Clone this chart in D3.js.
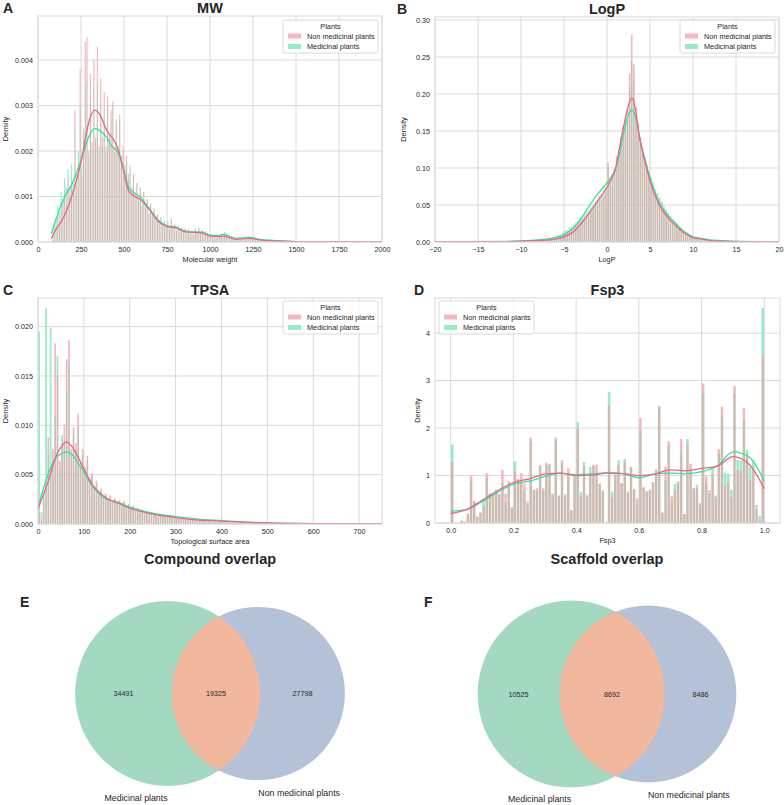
<!DOCTYPE html>
<html>
<head>
<meta charset="utf-8">
<script src="https://cdn.jsdelivr.net/npm/d3@7"></script>
<style>
  body { margin: 0; background: #fff; }
  text { font-family: "Liberation Sans", Arial, "DejaVu Sans", sans-serif; fill: #262626; }
</style>
</head>
<body>
<svg id="fig" width="784" height="805"></svg>
<script>
// ---- data ----
var seriesNames = ['Non medicinal plants', 'Medicinal plants'];

// MW histogram, bins of 10 starting at 80, density in units of 1e-5
var mwBinStart = 80, mwBinStep = 10, mwUnit = 1e-5;
var mwNon = [5, 15, 30, 55, 40, 70, 90, 110, 85, 140,
  100, 130, 110, 290, 120, 170, 380, 150, 240, 440,
  450, 200, 370, 220, 400, 230, 430, 210, 360, 230,
  330, 200, 320, 240, 290, 310, 210, 270, 200, 280,
  180, 210, 160, 190, 140, 170, 110, 150, 100, 130,
  90, 120, 80, 110, 75, 95, 60, 80, 55, 70,
  45, 60, 40, 50, 35, 45, 30, 42, 28, 50,
  30, 38, 25, 35, 22, 30, 20, 28, 18, 26,
  17, 25, 15, 28, 18, 30, 20, 25, 15, 22,
  18, 12, 15, 10, 14, 9, 12, 10, 15, 12,
  18, 13, 9, 11, 6, 9, 5, 8, 7, 5,
  6, 5, 9, 6, 10, 8, 11, 5, 7, 4,
  5, 3, 4, 2, 3, 2, 4, 2, 3, 1,
  2, 1, 2, 1, 1, 1, 1, 0, 1, 0,
  1, 0];
var mwMed = [15, 35, 50, 80, 65, 110, 95, 140, 120, 160,
  120, 170, 130, 250, 150, 200, 300, 170, 250, 350,
  360, 190, 310, 200, 340, 220, 350, 200, 310, 210,
  290, 210, 300, 230, 270, 300, 200, 260, 210, 270,
  190, 200, 170, 180, 150, 160, 120, 145, 110, 130,
  95, 120, 85, 110, 80, 95, 65, 85, 60, 75,
  50, 62, 45, 55, 40, 48, 35, 45, 30, 52,
  32, 40, 27, 36, 24, 32, 22, 30, 20, 28,
  19, 27, 17, 30, 20, 32, 22, 27, 16, 24,
  20, 14, 17, 12, 15, 10, 13, 12, 18, 14,
  22, 15, 11, 12, 7, 10, 6, 9, 8, 6,
  7, 6, 10, 7, 13, 9, 12, 6, 8, 5,
  6, 4, 5, 3, 4, 3, 5, 2, 3, 2,
  2, 2, 2, 1, 1, 1, 1, 1, 1, 0,
  1, 0];
var mwKdeX = [78, 100, 150, 200, 250, 300, 330, 360, 400, 430, 460, 490, 530, 600, 650, 700, 750, 800, 850, 900, 950, 1000, 1050, 1080, 1150, 1230, 1300, 1400, 1500, 1700, 2000];
var mwKdeNon = [0.00008, 0.00025, 0.00055, 0.00105, 0.00175, 0.0027, 0.0029, 0.0028, 0.00245, 0.0023, 0.0021, 0.0017, 0.0011, 0.00092, 0.0007, 0.00045, 0.00034, 0.00031, 0.00023, 0.00021, 0.0002, 0.00013, 0.00012, 0.00013, 0.00006, 0.00008, 0.00004, 0.00002, 0.00001, 0.000005, 0.000003];
var mwKdeMed = [0.00018, 0.00045, 0.00095, 0.0013, 0.0018, 0.00235, 0.0025, 0.00245, 0.0023, 0.0021, 0.002, 0.0017, 0.00118, 0.00097, 0.00072, 0.00048, 0.00036, 0.00033, 0.00025, 0.00022, 0.00022, 0.00015, 0.00014, 0.00017, 0.00008, 0.0001, 0.00005, 0.00003, 0.00001, 0.000005, 0.000002];

// LogP histogram, bins of 0.25 starting at -8, density in units of 1e-3
var logpBinStart = -8, logpBinStep = 0.25, logpUnit = 1e-3;
var logpNon = [2, 1, 3, 2, 4, 3, 5, 4,
  6, 8, 7, 10, 12, 13, 16, 17,
  19, 21, 23, 27, 28, 31, 34, 36,
  41, 43, 48, 51, 56, 59, 63, 68,
  108, 78, 90, 97, 116, 124, 142, 156,
  165, 180, 228, 280, 240, 182, 160, 142,
  128, 113, 101, 90, 83, 76, 68, 61,
  55, 50, 45, 41, 36, 32, 28, 25,
  22, 19, 16, 13, 10, 8, 7, 6,
  5, 5, 4, 4, 3, 3, 2, 2,
  2, 2, 1, 1, 1, 1, 1, 1, 0, 1, 0, 1];
var logpMed = [3, 2, 4, 3, 5, 4, 6, 6,
  8, 10, 9, 13, 15, 16, 19, 21,
  23, 26, 28, 32, 34, 37, 40, 43,
  47, 50, 54, 57, 62, 65, 70, 74,
  102, 84, 92, 99, 110, 118, 130, 142,
  152, 166, 212, 245, 220, 172, 158, 142,
  124, 116, 104, 94, 87, 80, 72, 66,
  60, 54, 48, 44, 39, 35, 31, 28,
  25, 21, 18, 15, 12, 10, 8, 7,
  6, 6, 5, 4, 4, 3, 3, 2,
  2, 2, 2, 1, 1, 1, 1, 1, 1, 1, 1, 1];
var logpKdeX = [-20, -12, -10, -8, -6, -5, -4, -3, -2, -1, 0, 0.5, 1, 1.5, 2, 2.5, 2.9, 3.3, 3.8, 4.5, 5, 6, 7, 8, 9, 10, 11, 12, 13, 15, 20];
var logpKdeNon = [0, 0.0005, 0.001, 0.002, 0.004, 0.007, 0.013, 0.025, 0.040, 0.057, 0.074, 0.085, 0.10, 0.13, 0.16, 0.185, 0.195, 0.18, 0.14, 0.105, 0.083, 0.052, 0.034, 0.022, 0.012, 0.006, 0.004, 0.002, 0.001, 0.0005, 0];
var logpKdeMed = [0, 0.0008, 0.0015, 0.003, 0.006, 0.01, 0.018, 0.032, 0.050, 0.066, 0.080, 0.088, 0.098, 0.122, 0.15, 0.172, 0.178, 0.17, 0.14, 0.108, 0.087, 0.055, 0.037, 0.025, 0.014, 0.007, 0.005, 0.003, 0.002, 0.001, 0];

// TPSA histogram, bins of 5 starting at 0, density in units of 1e-5
var tpsaBinStart = 0, tpsaBinStep = 5, tpsaUnit = 1e-5;
var tpsaNon = [130, 60, 250, 420, 880, 560, 760, 1830, 1500, 640,
  820, 1010, 1670, 1860, 760, 980, 820, 1120, 640, 760,
  580, 690, 470, 520, 380, 440, 330, 360, 270, 310,
  240, 290, 220, 260, 210, 240, 190, 230, 170, 200,
  150, 180, 130, 160, 120, 140, 110, 125, 95, 115,
  90, 105, 80, 95, 75, 85, 70, 80, 60, 70,
  55, 65, 50, 58, 45, 52, 42, 48, 38, 44,
  34, 40, 30, 36, 28, 32, 25, 30, 22, 26,
  20, 23, 17, 20, 15, 18, 13, 15, 11, 13,
  10, 11, 8, 9, 7, 8, 6, 7, 5, 6,
  5, 4, 4, 3, 3, 3, 2, 2, 2, 2,
  2, 1, 1, 1, 1, 1, 1, 1, 1, 1];
var tpsaMed = [1950, 120, 320, 2190, 700, 1990, 620, 1100, 1700, 560,
  900, 850, 1350, 1650, 700, 900, 760, 1000, 600, 700,
  560, 650, 460, 500, 370, 420, 320, 350, 270, 300,
  240, 280, 225, 255, 215, 245, 200, 230, 175, 205,
  160, 185, 140, 165, 125, 145, 115, 130, 100, 120,
  95, 110, 85, 100, 80, 92, 74, 84, 66, 76,
  60, 70, 55, 62, 50, 57, 46, 53, 42, 48,
  38, 44, 34, 40, 31, 36, 28, 33, 25, 29,
  22, 26, 20, 23, 17, 20, 15, 17, 13, 15,
  11, 12, 9, 10, 8, 9, 7, 8, 6, 6,
  5, 5, 4, 4, 3, 3, 3, 2, 2, 2,
  2, 2, 1, 1, 1, 1, 1, 1, 1, 1];
var tpsaKdeX = [0, 12, 25, 37, 50, 62, 75, 87, 100, 112, 125, 150, 175, 200, 250, 300, 350, 400, 450, 500, 600, 750];
var tpsaKdeNon = [0.0015, 0.0030, 0.0047, 0.0066, 0.0078, 0.0083, 0.0078, 0.0068, 0.0056, 0.0045, 0.0036, 0.0026, 0.0021, 0.0016, 0.0010, 0.00064, 0.0004, 0.0003, 0.00018, 0.0001, 0.00003, 0];
var tpsaKdeMed = [0.0017, 0.0036, 0.0054, 0.0066, 0.0071, 0.0073, 0.0070, 0.0062, 0.0053, 0.0043, 0.0035, 0.0025, 0.0022, 0.0017, 0.0011, 0.00075, 0.0005, 0.00035, 0.0002, 0.0001, 0.00003, 0];

// Fsp3 histogram, bins of 0.01 starting at 0, density
var fspBinStart = 0, fspBinStep = 0.01, fspUnit = 1;
var fspNon = [1.30, 0, 0, 0.05, 0.03, 0.20, 1.00, 0.47, 0.13, 0.22,
  0.36, 1.05, 0.62, 0.63, 0.70, 0.62, 1.12, 0.62, 0.88, 0.33,
  1.10, 0.93, 1.05, 0.83, 0.45, 1.80, 0.70, 0.73, 1.22, 0.73,
  1.27, 1.25, 0.62, 1.76, 0.58, 1.32, 0.60, 1.15, 0.27, 1.02,
  2.00, 0.58, 1.21, 0.60, 1.07, 1.23, 1.23, 0.84, 0.69, 0.02,
  2.47, 0.56, 1.05, 1.23, 0.84, 1.30, 0.66, 1.18, 0.72, 0.52,
  2.21, 0.76, 0.67, 0.70, 0.86, 1.10, 2.47, 0.22, 1.19, 1.72,
  0.57, 0.70, 0.86, 1.77, 0.19, 1.68, 1.25, 0.74, 0.74, 0.42,
  2.94, 0.98, 0.69, 1.04, 0.53, 1.56, 2.45, 0.79, 0.86, 0.56,
  2.88, 1.12, 1.10, 2.43, 1.39, 0.91, 1.14, 0.31, 0.06, 3.51];
var fspMed = [1.65, 0, 0, 0.05, 0.03, 0.20, 0.90, 0.45, 0.13, 0.22,
  0.46, 0.95, 0.62, 0.63, 0.70, 0.60, 0.85, 0.45, 0.78, 0.33,
  1.30, 0.88, 0.92, 0.68, 0.38, 1.74, 0.70, 0.68, 1.18, 0.68,
  1.22, 1.23, 0.60, 1.80, 0.57, 1.27, 0.58, 1.05, 0.27, 0.98,
  2.13, 0.65, 1.28, 0.58, 1.18, 1.20, 1.04, 0.80, 0.66, 0.01,
  2.76, 0.66, 1.02, 1.32, 0.84, 1.35, 0.64, 1.18, 0.70, 0.41,
  1.96, 0.74, 0.66, 0.70, 0.86, 1.13, 2.45, 0.22, 0.91, 1.64,
  0.47, 0.82, 0.88, 1.51, 0.19, 1.77, 1.12, 0.72, 0.81, 0.34,
  2.75, 0.84, 0.62, 1.16, 0.58, 1.49, 2.29, 1.05, 1.04, 0.70,
  2.75, 1.33, 1.32, 2.17, 1.54, 1.18, 1.33, 0.38, 0.15, 4.53];
var fspKdeX = [0, 0.05, 0.1, 0.15, 0.2, 0.25, 0.3, 0.35, 0.4, 0.45, 0.5, 0.55, 0.6, 0.65, 0.7, 0.75, 0.8, 0.85, 0.9, 0.95, 1.0];
var fspKdeNon = [0.20, 0.28, 0.48, 0.68, 0.85, 0.93, 1.03, 1.05, 1.00, 1.01, 1.05, 1.04, 1.00, 1.03, 1.12, 1.10, 1.15, 1.20, 1.40, 1.25, 0.72];
var fspKdeMed = [0.25, 0.28, 0.45, 0.65, 0.82, 0.88, 0.98, 1.05, 1.02, 1.03, 1.06, 1.04, 0.95, 1.03, 1.05, 1.04, 1.08, 1.20, 1.50, 1.40, 0.88];

// tick values
var mwTicks = [0, 250, 500, 750, 1000, 1250, 1500, 1750, 2000];
var mwYTicks = [0, 0.001, 0.002, 0.003, 0.004];
var logpTicks = [-20, -15, -10, -5, 0, 5, 10, 15, 20];
var logpYTicks = [0, 0.05, 0.10, 0.15, 0.20, 0.25, 0.30];
var tpsaTicks = [0, 100, 200, 300, 400, 500, 600, 700];
var tpsaYTicks = [0, 0.005, 0.010, 0.015, 0.020];
var fspTicks = [0, 0.2, 0.4, 0.6, 0.8, 1.0];
var fspYTicks = [0, 1, 2, 3, 4];

// Venn counts: [only medicinal, both, only non medicinal]
var compoundCounts = [34491, 19325, 27798];
var scaffoldCounts = [10525, 8692, 8486];
var vennSetNames = ['Medicinal plants', 'Non medicinal plants'];

// ---- style ----
var col = {
  non: '#f6b7c3', med: '#95ecc8', both: '#cbbcb2',
  nonLine: '#f0647f', medLine: '#2fe49c',
  grid: '#dadada',
  vMed: '#a3d9c1', vNon: '#b5c1d7', vBoth: '#f1b89e'
};
var svg = d3.select('#fig');

function histPanel(p) {
  var g = svg.append('g'),
      x = d3.scaleLinear().domain(p.xDomain).range([p.left, p.right]),
      y = d3.scaleLinear().domain(p.yDomain).range([p.bottom, p.top]);

  // grid
  g.selectAll('line.vg').data(p.xTicks).join('line')
    .attr('x1', d => x(d)).attr('x2', d => x(d))
    .attr('y1', p.top).attr('y2', p.bottom)
    .style('stroke', col.grid).style('stroke-width', 1);
  g.selectAll('line.hg').data(p.yTicks).join('line')
    .attr('x1', p.left).attr('x2', p.right)
    .attr('y1', d => y(d)).attr('y2', d => y(d))
    .style('stroke', col.grid).style('stroke-width', 1);

  svg.append('clipPath').attr('id', 'clip-' + p.id)
    .append('rect').attr('x', p.left).attr('y', p.top)
    .attr('width', p.right - p.left).attr('height', p.bottom - p.top);

  var bars = p.non.map(function(v, i) {
    var a = v * p.unit, b = p.med[i] * p.unit;
    return { x0: p.binStart + i * p.binStep, hi: Math.max(a, b), lo: Math.min(a, b), nonTop: a > b };
  });
  var bg = g.append('g').attr('clip-path', 'url(#clip-' + p.id + ')');
  var bw = function(d) { return Math.max(0.4, x(d.x0 + p.binStep) - x(d.x0) - p.gap); };
  bg.selectAll('rect.top').data(bars).join('rect')
    .attr('x', d => x(d.x0) + p.gap / 2).attr('width', bw)
    .attr('y', d => y(d.hi)).attr('height', d => y(d.lo) - y(d.hi))
    .attr('fill', d => d.nonTop ? col.non : col.med);
  bg.selectAll('rect.base').data(bars).join('rect')
    .attr('x', d => x(d.x0) + p.gap / 2).attr('width', bw)
    .attr('y', d => y(d.lo)).attr('height', d => y(0) - y(d.lo))
    .attr('fill', col.both);

  // kde lines
  var line = d3.line().x(d => x(d[0])).y(d => y(d[1])).curve(d3.curveMonotoneX);
  bg.append('path').datum(d3.zip(p.kdeX, p.kdeMed))
    .attr('d', line).attr('fill', 'none')
    .style('stroke', col.medLine).style('stroke-width', 1.3);
  bg.append('path').datum(d3.zip(p.kdeX, p.kdeNon))
    .attr('d', line).attr('fill', 'none')
    .style('stroke', col.nonLine).style('stroke-width', 1.3);

  // frame
  g.append('rect').attr('x', p.left).attr('y', p.top)
    .attr('width', p.right - p.left).attr('height', p.bottom - p.top)
    .attr('fill', 'none').style('stroke', col.grid);

  // axes
  var ax = g.append('g').attr('transform', 'translate(0,' + p.bottom + ')')
    .call(d3.axisBottom(x).tickValues(p.xTicks).tickFormat(p.xFmt).tickSize(0).tickPadding(5));
  var ay = g.append('g').attr('transform', 'translate(' + p.left + ',0)')
    .call(d3.axisLeft(y).tickValues(p.yTicks).tickFormat(p.yFmt).tickSize(0).tickPadding(5));
  [ax, ay].forEach(function(a) {
    a.select('.domain').remove();
    a.selectAll('text').style('font-size', '7.2px').style('font-family', null).attr('fill', '#262626');
  });

  g.append('text').attr('x', (p.left + p.right) / 2).attr('y', p.bottom + 20)
    .attr('text-anchor', 'middle').style('font-size', '7.3px').text(p.xLabel);
  g.append('text').attr('transform', 'translate(' + p.yLabelX + ',' + ((p.top + p.bottom) / 2) + ') rotate(-90)')
    .attr('text-anchor', 'middle').style('font-size', '7.3px').text('Density');

  g.append('text').attr('x', (p.left + p.right) / 2).attr('y', p.top - 3)
    .attr('text-anchor', 'middle').style('font-size', '14.5px').style('font-weight', 'bold').text(p.title);
  g.append('text').attr('x', p.letterX).attr('y', p.top - 3)
    .style('font-size', '14px').style('font-weight', 'bold').text(p.letter);

  legend(g, p.legendX, p.legendY);
}

function legend(g, lx, ly) {
  var lg = g.append('g').attr('transform', 'translate(' + lx + ',' + ly + ')');
  lg.append('rect').attr('width', 95).attr('height', 33).attr('rx', 2)
    .attr('fill', '#fff').attr('fill-opacity', 0.85).style('stroke', '#d0d0d0').style('stroke-width', 0.8);
  lg.append('text').attr('x', 47.5).attr('y', 8.5).attr('text-anchor', 'middle')
    .style('font-size', '7.3px').text('Plants');
  var items = lg.selectAll('g.item').data(seriesNames).join('g')
    .attr('transform', (d, i) => 'translate(5,' + (16 + i * 10.5) + ')');
  items.append('rect').attr('width', 13).attr('height', 5).attr('y', -2.5)
    .attr('fill', (d, i) => i === 0 ? col.non : col.med);
  items.append('text').attr('x', 19).attr('y', 2.6).style('font-size', '7.3px').text(d => d);
}

function lensArea(r1, r2, d) {
  if (d >= r1 + r2) return 0;
  if (d <= Math.abs(r1 - r2)) return Math.PI * Math.min(r1, r2) * Math.min(r1, r2);
  var a1 = Math.acos((d * d + r1 * r1 - r2 * r2) / (2 * d * r1)),
      a2 = Math.acos((d * d + r2 * r2 - r1 * r1) / (2 * d * r2));
  return r1 * r1 * a1 + r2 * r2 * a2 -
    0.5 * Math.sqrt((-d + r1 + r2) * (d + r1 - r2) * (d - r1 + r2) * (d + r1 + r2));
}

function vennPanel(v) {
  var c = v.counts,
      setA = c[0] + c[1], setB = c[1] + c[2],
      r = d3.scaleSqrt().domain([0, Math.max(setA, setB)]).range([0, v.maxR]),
      r1 = r(setA), r2 = r(setB),
      target = Math.PI * r(c[1]) * r(c[1]);
  var lo = Math.abs(r1 - r2), hi = r1 + r2;
  for (var k = 0; k < 60; k++) {
    var mid = (lo + hi) / 2;
    if (lensArea(r1, r2, mid) > target) lo = mid; else hi = mid;
  }
  var d = (lo + hi) / 2,
      cx1 = v.cx - (d + r2 - r1) / 2, cx2 = cx1 + d, cy = v.cy;
  var g = svg.append('g');
  var clipId = 'vclip-' + v.id;
  g.append('clipPath').attr('id', clipId).append('circle').attr('cx', cx1).attr('cy', cy).attr('r', r1);
  g.append('circle').attr('cx', cx1).attr('cy', cy).attr('r', r1).attr('fill', col.vMed);
  g.append('circle').attr('cx', cx2).attr('cy', cy).attr('r', r2).attr('fill', col.vNon);
  g.append('circle').attr('cx', cx2).attr('cy', cy).attr('r', r2).attr('fill', col.vBoth)
    .attr('clip-path', 'url(#' + clipId + ')');

  var edges = [cx1 - r1, cx2 - r2, cx1 + r1, cx2 + r2];
  var labelX = [(edges[0] + edges[1]) / 2, (edges[1] + edges[2]) / 2, (edges[2] + edges[3]) / 2];
  g.selectAll('text.num').data(c).join('text')
    .attr('x', (dd, i) => labelX[i]).attr('y', cy + 2.5)
    .attr('text-anchor', 'middle').style('font-size', '7.2px').text(dd => dd);

  g.append('text').attr('x', cx1).attr('y', cy + r1 + 14.5).attr('text-anchor', 'end')
    .style('font-size', '8.8px').text(vennSetNames[0]);
  g.append('text').attr('x', cx2).attr('y', cy + r2 + 15.5).attr('text-anchor', 'start')
    .style('font-size', '8.8px').text(vennSetNames[1]);

  g.append('text').attr('x', v.cx).attr('y', v.titleY).attr('text-anchor', 'middle')
    .style('font-size', '14.5px').style('font-weight', 'bold').text(v.title);
  g.append('text').attr('x', v.letterX).attr('y', 607)
    .style('font-size', '14px').style('font-weight', 'bold').text(v.letter);
}

var f3 = d3.format('.3f'), f2 = d3.format('.2f'), f1 = d3.format('.1f'), f0 = d3.format('d');

histPanel({ id: 'mw', title: 'MW', letter: 'A', letterX: 3, left: 38, right: 382, top: 16, bottom: 242,
  xDomain: [0, 2000], yDomain: [0, 0.00497], xTicks: mwTicks, yTicks: mwYTicks, xFmt: f0, yFmt: f3,
  binStart: mwBinStart, binStep: mwBinStep, unit: mwUnit, non: mwNon, med: mwMed, gap: 0.55,
  kdeX: mwKdeX, kdeNon: mwKdeNon, kdeMed: mwKdeMed,
  xLabel: 'Molecular weight', yLabelX: 8, legendX: 283, legendY: 20 });

histPanel({ id: 'logp', title: 'LogP', letter: 'B', letterX: 397, left: 435, right: 779, top: 17, bottom: 242,
  xDomain: [-20, 20], yDomain: [0, 0.304], xTicks: logpTicks, yTicks: logpYTicks, xFmt: f0, yFmt: f2,
  binStart: logpBinStart, binStep: logpBinStep, unit: logpUnit, non: logpNon, med: logpMed, gap: 0.45,
  kdeX: logpKdeX, kdeNon: logpKdeNon, kdeMed: logpKdeMed,
  xLabel: 'LogP', yLabelX: 406, legendX: 680, legendY: 20 });

histPanel({ id: 'tpsa', title: 'TPSA', letter: 'C', letterX: 3, left: 38, right: 382, top: 298, bottom: 524,
  xDomain: [0, 750], yDomain: [0, 0.0229], xTicks: tpsaTicks, yTicks: tpsaYTicks, xFmt: f0, yFmt: f3,
  binStart: tpsaBinStart, binStep: tpsaBinStep, unit: tpsaUnit, non: tpsaNon, med: tpsaMed, gap: 0.55,
  kdeX: tpsaKdeX, kdeNon: tpsaKdeNon, kdeMed: tpsaKdeMed,
  xLabel: 'Topological surface area', yLabelX: 8, legendX: 283, legendY: 301 });

histPanel({ id: 'fsp', title: 'Fsp3', letter: 'D', letterX: 414, left: 435, right: 780, top: 298, bottom: 523,
  xDomain: [-0.05, 1.05], yDomain: [0, 4.74], xTicks: fspTicks, yTicks: fspYTicks, xFmt: f1, yFmt: f0,
  binStart: fspBinStart, binStep: fspBinStep, unit: fspUnit, non: fspNon, med: fspMed, gap: 0.6,
  kdeX: fspKdeX, kdeNon: fspKdeNon, kdeMed: fspKdeMed,
  xLabel: 'Fsp3', yLabelX: 420, legendX: 439, legendY: 301 });

vennPanel({ id: 'e', counts: compoundCounts, title: 'Compound overlap', letter: 'E', letterX: 20,
  cx: 210, cy: 693.5, maxR: 92.5, titleY: 564 });
vennPanel({ id: 'f', counts: scaffoldCounts, title: 'Scaffold overlap', letter: 'F', letterX: 424,
  cx: 607, cy: 694, maxR: 93.5, titleY: 564 });
</script>
</body>
</html>
